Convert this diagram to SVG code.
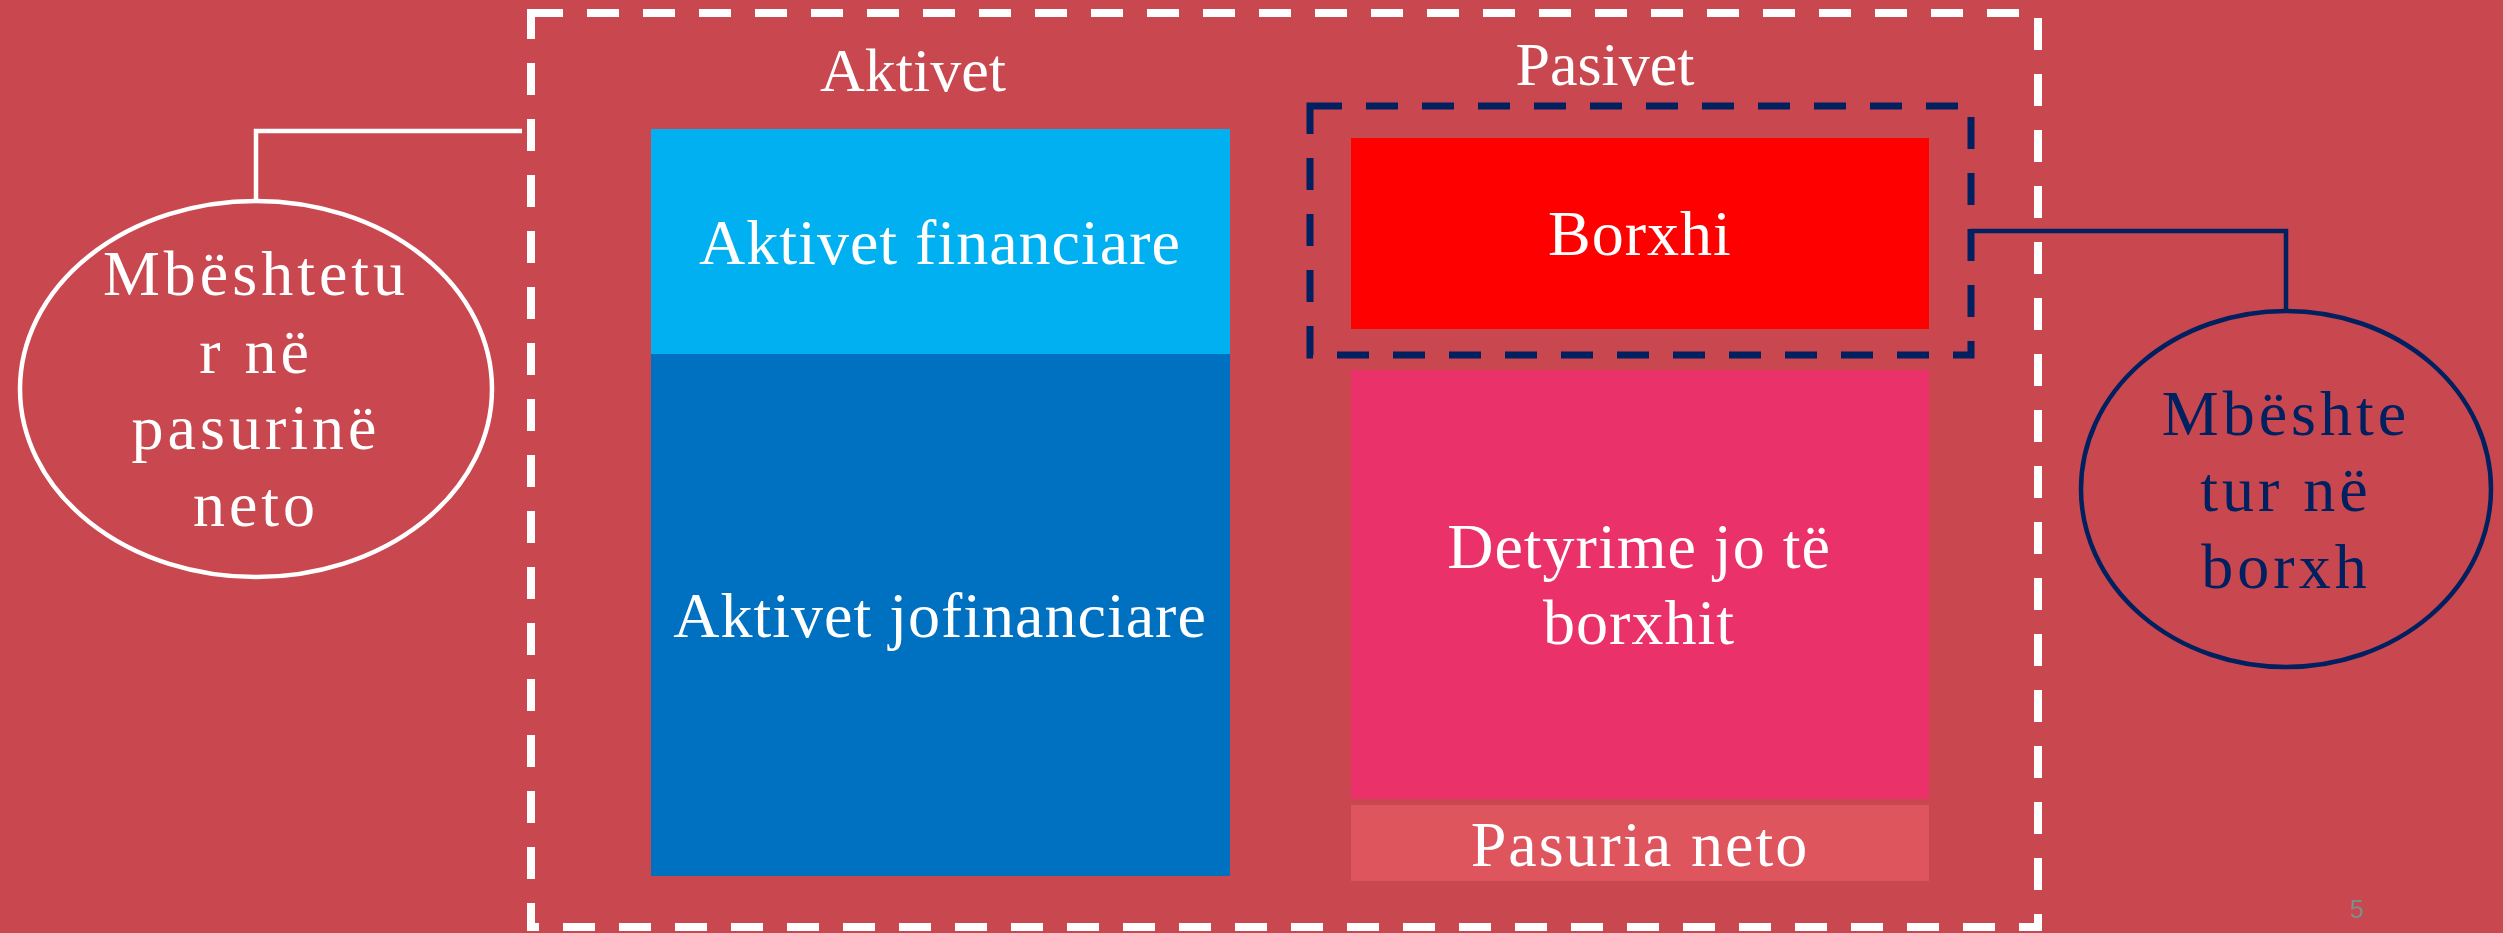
<svg xmlns="http://www.w3.org/2000/svg" width="2503" height="933" viewBox="0 0 2503 933">
<style>
.t{font-family:"Liberation Serif","Times New Roman",serif;fill:#fff;text-anchor:middle;font-size:64px;letter-spacing:1px}
.h{letter-spacing:0;font-size:62px}
.n{fill:#002060}
.ls{letter-spacing:4px}
</style>
<rect x="0" y="0" width="2503" height="933" fill="#C9474F"/>
<g id="frame">
<rect x="531" y="13" width="1507" height="914" fill="none" stroke="#fff" stroke-width="8" stroke-dasharray="32 24"/>
<text class="t h" x="913" y="91">Aktivet</text>
<text class="t h" x="1605" y="85">Pasivet</text>
</g>
<g id="aktivet-financiare">
<rect x="651" y="129" width="579" height="225" fill="#00B0F0"/>
<text class="t" x="940" y="264">Aktivet financiare</text>
</g>
<g id="aktivet-jofinanciare">
<rect x="651" y="354" width="579" height="522" fill="#0070C0"/>
<text class="t" x="940" y="637">Aktivet jofinanciare</text>
</g>
<g id="debt-group">
<rect x="1310" y="106" width="661" height="249" fill="none" stroke="#002060" stroke-width="7" stroke-dasharray="32 24"/>
</g>
<g id="borxhi">
<rect x="1351" y="138" width="578" height="191" fill="#FF0000"/>
<text class="t" x="1640" y="255">Borxhi</text>
</g>
<g id="detyrime">
<rect x="1351" y="370" width="578" height="429" fill="#EB3169"/>
<text class="t" x="1639" y="568">Detyrime jo të</text>
<text class="t" x="1639" y="644">borxhit</text>
</g>
<g id="pasuria-neto">
<rect x="1351" y="805" width="578" height="76" fill="#DF555E"/>
<text class="t" x="1640" y="866" style="letter-spacing:2px">Pasuria neto</text>
</g>
<g id="connectors" fill="none">
<polyline points="256,201 256,131 522,131" stroke="#fff" stroke-width="4.5"/>
<polyline points="1970,231 2286,231 2286,311" stroke="#002060" stroke-width="4.5"/>
</g>
<g id="net-worth-based">
<ellipse cx="256" cy="389" rx="236" ry="188" fill="none" stroke="#fff" stroke-width="4.5"/>
<text class="t ls" x="256" y="295">Mbështetu</text>
<text class="t ls" x="256" y="373">r në</text>
<text class="t ls" x="256" y="449">pasurinë</text>
<text class="t ls" x="256" y="526">neto</text>
</g>
<g id="debt-based">
<ellipse cx="2286" cy="489" rx="205" ry="178" fill="none" stroke="#002060" stroke-width="4.5"/>
<text class="t n ls" x="2286" y="435">Mbështe</text>
<text class="t n ls" x="2286" y="511">tur në</text>
<text class="t n ls" x="2286" y="588">borxh</text>
</g>
<text x="2357" y="918" font-family="Liberation Sans,Arial,sans-serif" font-size="25" fill="#7F8C8D" text-anchor="middle">5</text>
</svg>
